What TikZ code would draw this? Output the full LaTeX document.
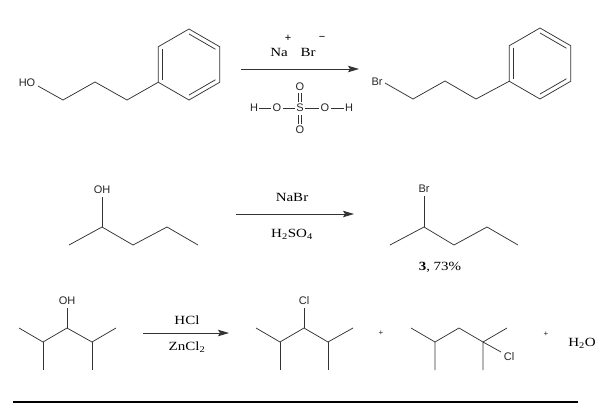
\documentclass[tikz,border=0pt]{standalone}
\usepackage{fontspec}
\setmainfont{Liberation Serif}
\setsansfont{Liberation Sans}
\newfontfamily\reagfont[FakeStretch=1.2]{Liberation Serif}
\usetikzlibrary{arrows.meta,calc}
\tikzset{
	bond/.style={line width=.75pt, draw=black!80},
	atom/.style={font=\sffamily\fontsize{11}{12}\selectfont, inner sep=0pt, text=black!85},
	charge/.style={font=\sffamily\fontsize{11}{12}\selectfont, inner sep=0pt},
	reag/.style={font=\reagfont\fontsize{12.5}{13}\selectfont, inner sep=0pt},
	rxnarrow/.style={line width=.9pt, draw=black!80, -{Stealth[length=11pt,width=6.5pt,inset=2pt]}}
}
\begin{document}
\begin{tikzpicture}[x=1pt,y=-1pt]
	\useasboundingbox (0,0) rectangle (605,418);
	\def\radius{35.5}
	% top row
	\coordinate (rca) at (189,64.5);
	\coordinate (rcb) at (540,63.5);
	\foreach \i in {1,...,6} {
		\coordinate (ra\i) at ($(rca)+(30+60*\i:\radius)$);
		\coordinate (rb\i) at ($(rcb)+(30+60*\i:\radius)$);
	}
	\draw[bond] (ra1)--(ra2)--(ra3)--(ra4)--(ra5)--(ra6)--cycle;
	\draw[bond] (rb1)--(rb2)--(rb3)--(rb4)--(rb5)--(rb6)--cycle;
	\foreach \a/\b in {2/3,4/5,6/1} {
		\draw[bond] ($(rca)!.86!(ra\a)$) -- ($(rca)!.86!(ra\b)$);
		\draw[bond] ($(rcb)!.86!(rb\a)$) -- ($(rcb)!.86!(rb\b)$);
	}
	\node[atom] (ho) at (27,83) {HO};
	\coordinate (hoi) at (38,86);
	\coordinate (hoii) at (63,100);
	\coordinate (hoiii) at (95,82);
	\coordinate (hoiv) at (127,100);
	\draw[bond] (hoi)--(hoii)--(hoiii)--(hoiv)--(ra2);
	\node[atom] (br) at (377,82) {Br};
	\coordinate (bri) at (385,83);
	\coordinate (brii) at (413,99);
	\coordinate (briii) at (445,81);
	\coordinate (briv) at (476,99);
	\draw[bond] (bri)--(brii)--(briii)--(briv)--(rb2);
	
	\coordinate (ara) at (241,69);
	\coordinate (arb) at (359,69);
	\draw[rxnarrow] (ara) -- (arb);
	\node[reag] (na) at (279,52) {Na};
	\node[charge] (nap) at (288,38) {+};
	\node[reag] (brm) at (308,52) {Br};
	\node[charge] (brmm) at (322,38) {−};
	
	\node[atom] (sh) at (254,108) {H};
	\node[atom] (so) at (277,108) {O};
	\node[atom] (ss) at (300,108) {S};
	\node[atom] (soo) at (325,108) {O};
	\node[atom] (shh) at (349,108) {H};
	\node[atom] (sot) at (300,87) {O};
	\node[atom] (sob) at (300,130) {O};
	\draw[bond] ([xshift=1pt]sh.east) -- ([xshift=-1.5pt]so.west);
	\draw[bond] ([xshift=1.5pt]so.east) -- ([xshift=-1.5pt]ss.west);
	\draw[bond] ([xshift=1.5pt]ss.east) -- ([xshift=-1.5pt]soo.west);
	\draw[bond] ([xshift=1.5pt]soo.east) -- ([xshift=-1pt]shh.west);
	\draw[bond] (298.5,93) -- (298.5,102) (301.5,93) -- (301.5,102);
	\draw[bond] (298.5,115) -- (298.5,124) (301.5,115) -- (301.5,124);
	
	% middle row
	\node[atom] (oh) at (102,190) {OH};
	\coordinate (ohi) at (69,245);
	\coordinate (ohii) at (102,227);
	\coordinate (ohiii) at (133,245);
	\coordinate (ohiv) at (167,227);
	\coordinate (ohv) at (198,245);
	\draw[bond] (ohi)--(ohii)--(ohiii)--(ohiv)--(ohv);
	\draw[bond] (ohii) -- (102,197);
	\coordinate (arc) at (236,214);
	\coordinate (ard) at (354,214);
	\draw[rxnarrow] (arc) -- (ard);
	\node[reag] (nabr) at (292,197) {NaBr};
	\node[reag] (hso) at (292,234) {H\textsubscript{2}SO\textsubscript{4}};
	\node[atom] (bb) at (424,189) {Br};
	\coordinate (bbi) at (390,245);
	\coordinate (bbii) at (424,227);
	\coordinate (bbiii) at (454,245);
	\coordinate (bbiv) at (487,227);
	\coordinate (bbv) at (518,245);
	\draw[bond] (bbi)--(bbii)--(bbiii)--(bbiv)--(bbv);
	\draw[bond] (bbii) -- (424,196);
	\node[reag] (yield) at (440,267) {\textbf{3}, 73\%};
	
	% bottom row
	\node[atom] (ohb) at (67,301) {OH};
	\coordinate (ci) at (19,328);
	\coordinate (cii) at (43,342);
	\coordinate (ciii) at (67,328);
	\coordinate (civ) at (92,342);
	\coordinate (cv) at (116,328);
	\draw[bond] (ci)--(cii)--(ciii)--(civ)--(cv);
	\draw[bond] (cii) -- (43,370) (civ) -- (92,370) (ciii) -- (67,308);
	\coordinate (are) at (143,333);
	\coordinate (arf) at (229,333);
	\draw[rxnarrow] (are) -- (arf);
	\node[reag] (hcl) at (187,320) {HCl};
	\node[reag] (zn) at (187,347) {ZnCl\textsubscript{2}};
	
	\node[atom] (cla) at (304,301) {Cl};
	\coordinate (di) at (256,328);
	\coordinate (dii) at (280,342);
	\coordinate (diii) at (304,328);
	\coordinate (div) at (328,342);
	\coordinate (dv) at (353,328);
	\draw[bond] (di)--(dii)--(diii)--(div)--(dv);
	\draw[bond] (dii) -- (280,370) (div) -- (328,370) (diii) -- (304,308);
	\node[atom,font=\sffamily\footnotesize] (plusa) at (381,333) {+};
	
	\node[atom] (clb) at (509,357) {Cl};
	\coordinate (ei) at (411,328);
	\coordinate (eii) at (435,342);
	\coordinate (eiii) at (459,328);
	\coordinate (eiv) at (483,342);
	\coordinate (ev) at (507,328);
	\draw[bond] (ei)--(eii)--(eiii)--(eiv)--(ev);
	\draw[bond] (eii) -- (435,370) (eiv) -- (483,370) (eiv) -- (501,352);
	\node[atom,font=\sffamily\footnotesize] (plusb) at (546,334) {+};
	\node[reag] (water) at (582,343) {H\textsubscript{2}O};
	
	\coordinate (rulea) at (13,402);
	\coordinate (ruleb) at (578,402);
	\draw[line width=1.2pt] (rulea) -- (ruleb);
\end{tikzpicture}
\end{document}
